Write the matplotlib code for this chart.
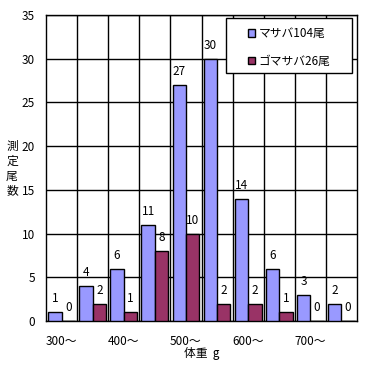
import numpy as np
import matplotlib
matplotlib.use('Agg')
import matplotlib.pyplot as plt
from matplotlib.patches import Rectangle

plt.rcParams['font.family'] = ['Noto Sans CJK JP', 'DejaVu Sans']

# weight classes (50 g steps), only every other one is labelled
classes = ['300～', '', '400～', '', '500～', '', '600～', '', '700～', '']
masaba = [1, 4, 6, 11, 27, 30, 14, 6, 3, 2]
gomasaba = [0, 2, 1, 8, 10, 2, 2, 1, 0, 0]
names = ['マサバ104尾', 'ゴマサバ26尾']

fig = plt.figure(figsize=(3.75, 3.66), dpi=100)
ax = fig.add_axes([46 / 375, 1 - 321 / 366, 311 / 375, 306 / 366])

x = np.arange(len(classes))
w = 0.43
b1 = ax.bar(x - w / 2, masaba, w, color='#9999FF', edgecolor='black', linewidth=1, label=names[0], zorder=3)
b2 = ax.bar(x + w / 2, gomasaba, w, color='#993366', edgecolor='black', linewidth=1, label=names[1], zorder=3)

for rects, vals in ((b1, masaba), (b2, gomasaba)):
    for r, v in zip(rects, vals):
        ax.text(r.get_x() + r.get_width() / 2, v + 0.8, str(v), ha='center', va='bottom', fontsize=8.5)

ax.set_xlim(-0.5, len(classes) - 0.5)
ax.set_ylim(0, 35)
ax.set_yticks(range(0, 36, 5))
ax.set_xticks(x)
ax.set_xticklabels(classes, fontsize=8.5)
ax.tick_params(axis='both', length=0, labelsize=8.5)
ax.tick_params(axis='x', pad=10)
ax.tick_params(axis='y', pad=8)

# grid lines on category boundaries and on y ticks
for b in np.arange(0.5, len(classes) - 0.5, 1):
    ax.axvline(b, color='black', lw=1, zorder=1)
ax.yaxis.grid(True, color='black', lw=1, zorder=1)
ax.set_axisbelow(True)
for s in ax.spines.values():
    s.set_linewidth(1)

for i, ch in enumerate('測定尾数'):
    fig.text(12 / 375, 1 - (146 + i * 15) / 366, ch, ha='center', va='center', fontsize=8.5)
fig.text(202 / 375, 1 - 354 / 366, '体重  g', ha='center', va='center', fontsize=8.5)

# legend: Excel-style box with wide side padding
fig.patches.append(Rectangle((226 / 375, 1 - 73 / 366), 126 / 375, 55 / 366, transform=fig.transFigure,
                             facecolor='white', edgecolor='black', lw=1, zorder=5))
leg = fig.legend(loc='upper left', bbox_to_anchor=(248 / 375, 1 - 27 / 366), fontsize=8.5, frameon=False,
                 handlelength=0.6, handleheight=0.6, labelspacing=1.25, borderpad=0, borderaxespad=0,
                 handletextpad=0.3)
leg.set_zorder(6)

fig.savefig('out.png', dpi=100)
